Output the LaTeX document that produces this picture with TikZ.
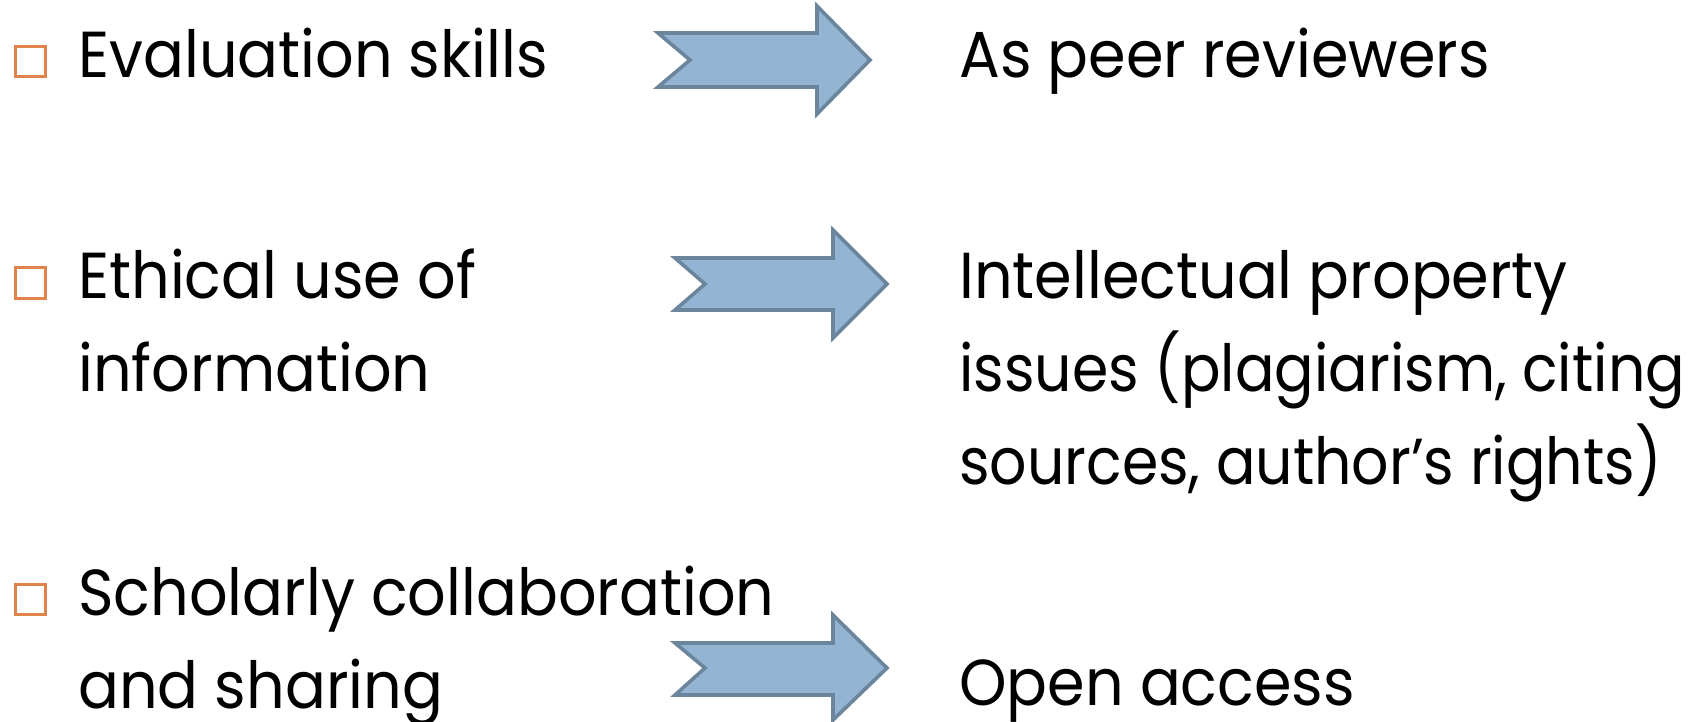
\documentclass[tikz,border=0pt]{standalone}
\usepackage{fontspec}
\setmainfont[FakeStretch=0.93]{Poppins}
\newfontfamily\narrowpop[FakeStretch=0.9]{Poppins}
\begin{document}
\begin{tikzpicture}[x=0.5pt,y=-0.5pt,
  lbl/.style={anchor=base west,inner sep=0pt,font=\fontsize{32.5}{46}\selectfont},
  nlbl/.style={lbl,font=\fontsize{32.5}{46}\narrowpop},
  bul/.style={draw=bulletorange,line width=1.5pt,minimum width=15pt,minimum height=15pt,inner sep=0pt},
  blockarrow/.style={fill=arrowfill,draw=arrowline,line width=1.8pt,line join=miter}]
\definecolor{bulletorange}{HTML}{E0834A}
\definecolor{arrowfill}{HTML}{94B4D4}
\definecolor{arrowline}{HTML}{6B869C}
\useasboundingbox (0,0) rectangle (1705,722);
% bullets
\node[bul] (b1) at (30,62) {};
\node[bul] (b2) at (30,283) {};
\node[bul] (b3) at (30,599) {};
% left texts
\node[lbl] (l1) at (78,78) {Evaluation skills};
\node[lbl] (l2a) at (78,299) {Ethical use of};
\node[lbl] (l2b) at (78,391) {information};
\node[lbl] (l3a) at (78,615) {Scholarly collaboration};
\node[lbl] (l3b) at (78,708) {and sharing};
% right texts
\node[lbl] (r1) at (959,78) {As peer reviewers};
\node[lbl] (r2a) at (959,299) {Intellectual property};
\node[nlbl] (r2b) at (959,391) {issues (plagiarism, citing};
\node[nlbl] (r2c) at (959,484) {sources, author’s rights)};
\node[lbl] (r3) at (959,705) {Open access};
% arrows
\draw[blockarrow] (658,33) -- (817,33) -- (817,6) -- (870,60) -- (817,114) -- (817,87) -- (658,87) -- (690,60) -- cycle;
\draw[blockarrow] (675,258) -- (833,258) -- (833,230) -- (887,284) -- (833,338) -- (833,310) -- (675,310) -- (705,284) -- cycle;
\draw[blockarrow] (675,643) -- (833,643) -- (833,615) -- (887,668) -- (833,720) -- (833,695) -- (675,695) -- (705,668) -- cycle;
\end{tikzpicture}
\end{document}
